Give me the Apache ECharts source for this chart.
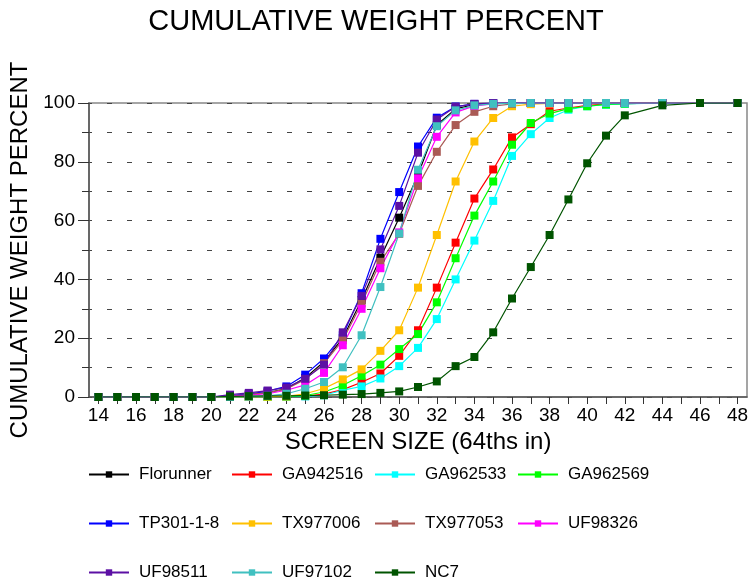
<!DOCTYPE html>
<html>
<head>
<meta charset="utf-8">
<script src="https://cdn.jsdelivr.net/npm/echarts@6/dist/echarts.min.js"></script>
<style>
html,body{margin:0;padding:0;background:#fff;}
#chart{width:752px;height:586px;}
</style>
</head>
<body>
<div id="chart"></div>
<script>
// Screen size categories on the axis (64ths of an inch)
const xCategories = [14,15,16,17,18,19,20,21,22,23,24,25,26,27,28,29,30,31,32,33,34,35,36,37,38,39,40,41,42,43,44,45,46,47,48];
// Screen sizes at which data was recorded
const sizes = [14,15,16,17,18,19,20,21,22,23,24,25,26,27,28,29,30,31,32,33,34,35,36,37,38,39,40,41,42,44,46,48];
const yTicks = [0,20,40,60,80,100];

const seriesNames = ['Florunner','GA942516','GA962533','GA962569','TP301-1-8','TX977006','TX977053','UF98326','UF98511','UF97102','NC7'];
const seriesColors = ['#000000','#ff0000','#00ffff','#00ff00','#0000ff','#ffc000','#aa5a55','#ff00ff','#5c10a4','#40c0c0','#005400'];

const florunner = [0,0,0,0,0,0,0, 0.3,0.8,1.5,2.8,6.5,12.0,20.0,33.0,47.4,61.0,75.6,92.5,98.0,99.5,99.8,100,100,100,100,100,100,100, 100,100,100];
const ga942516  = [0,0,0,0,0,0,0, 0,0,0,0.1,0.3,1.0,2.5,5.0,8.0,14.0,22.7,37.2,52.5,67.5,77.4,88.3,92.8,97.2,98.3,99.2,99.6,99.8, 100,100,100];
const ga962533  = [0,0,0,0,0,0,0, 0,0,0,0.1,0.2,0.6,2.3,3.6,6.3,10.5,16.7,26.5,40.0,53.2,66.7,82.0,89.4,94.9,97.7,98.9,99.4,99.7, 100,100,100];
const ga962569  = [0,0,0,0,0,0,0, 0,0,0.1,0.2,0.5,1.7,4.0,7.2,11.0,16.3,21.4,32.2,47.2,61.7,73.3,85.8,93.2,96.4,98.1,98.9,99.5,99.8, 100,100,100];
const tp301     = [0,0,0,0,0,0,0, 0.5,1.0,2.0,3.6,7.6,13.1,21.0,35.3,53.8,69.7,85.2,95.0,98.8,99.7,100,100,100,100,100,100,100,100, 100,100,100];
const tx977006  = [0,0,0,0,0,0,0, 0,0,0.1,0.2,1.1,2.9,6.0,9.4,15.7,22.7,37.2,55.1,73.3,86.9,94.9,98.9,99.6,99.9,100,100,100,100, 100,100,100];
const tx977053  = [0,0,0,0,0,0,0, 0.3,0.8,1.5,2.7,6.0,11.5,19.3,31.8,46.0,55.5,71.8,83.4,92.5,97.0,98.9,99.7,100,100,100,100,100,100, 100,100,100];
const uf98326   = [0,0,0,0,0,0,0, 0.3,0.6,1.1,2.3,4.1,8.2,17.6,30.0,43.8,56.0,74.4,88.5,96.8,99.0,99.7,100,100,100,100,100,100,100, 100,100,100];
const uf98511   = [0,0,0,0,0,0,0, 0.8,1.4,2.2,3.2,6.2,11.0,22.0,34.4,50.2,65.0,83.1,94.4,98.7,99.7,100,100,100,100,100,100,100,100, 100,100,100];
const uf97102   = [0,0,0,0,0,0,0, 0,0.1,0.4,1.1,2.8,5.1,10.1,21.0,37.4,55.6,77.3,92.1,97.5,99.2,99.7,99.9,100,100,100,100,100,100, 100,100,100];
const nc7       = [0,0,0,0,0,0,0, 0.2,0.3,0.4,0.4,0.5,0.6,0.8,1.0,1.4,1.9,3.4,5.3,10.5,13.6,22.0,33.5,44.2,55.1,67.2,79.5,88.9,95.8, 99.2,100,100];

const seriesValues = [florunner,ga942516,ga962533,ga962569,tp301,tx977006,tx977053,uf98326,uf98511,uf97102,nc7];

const FONT = "'Liberation Sans', Arial, sans-serif";

function alignToCategories(vals){
  return xCategories.map(c => {
    const i = sizes.indexOf(c);
    return i >= 0 ? vals[i] : null;
  });
}

const series = seriesNames.map((name, k) => ({
  name: name,
  type: 'line',
  data: alignToCategories(seriesValues[k]),
  connectNulls: true,
  symbol: 'rect',
  symbolSize: 8,
  color: seriesColors[k],
  lineStyle: {width: 1.2, color: seriesColors[k]},
  itemStyle: {color: seriesColors[k]},
  emphasis: {disabled: true},
  animation: false
}));

const legends = seriesNames.map((name, k) => ({
  data: [name],
  left: 88 + (k % 4) * 143,
  top: 466 + Math.floor(k / 4) * 49,
  padding: 0,
  itemWidth: 40,
  itemHeight: 8,
  selectedMode: false,
  textStyle: {fontFamily: FONT, fontSize: 17, color: '#000', padding: [0,0,0,5]}
}));

const chart = echarts.init(document.getElementById('chart'), null, {renderer: 'canvas'});
chart.setOption({
  animation: false,
  backgroundColor: '#fff',
  title: {
    text: 'CUMULATIVE WEIGHT PERCENT',
    left: 'center',
    top: 2,
    textStyle: {fontFamily: FONT, fontSize: 29, fontWeight: 'normal', color: '#000'}
  },
  legend: legends,
  grid: {left: 89, right: 5, top: 103, bottom: 189, show: true, borderColor: '#888', borderWidth: 1.5, backgroundColor: 'transparent'},
  xAxis: {
    type: 'category',
    data: xCategories.map(String),
    boundaryGap: true,
    name: 'SCREEN SIZE (64ths in)',
    nameLocation: 'middle',
    nameGap: 32,
    nameTextStyle: {fontFamily: FONT, fontSize: 24, color: '#000'},
    axisLine: {lineStyle: {color: '#555', width: 1.5}},
    axisTick: {show: true, alignWithLabel: true, interval: 0, length: 7, lineStyle: {color: '#333'}},
    axisLabel: {interval: 1, fontFamily: FONT, fontSize: 19, color: '#000', margin: 9},
    splitLine: {show: false}
  },
  yAxis: {
    type: 'value',
    min: yTicks[0],
    max: yTicks[yTicks.length - 1],
    interval: 20,
    name: 'CUMULATIVE WEIGHT PERCENT',
    nameLocation: 'middle',
    nameGap: 53,
    nameTextStyle: {fontFamily: FONT, fontSize: 24, color: '#000'},
    axisLine: {show: true, lineStyle: {color: '#555', width: 1.5}},
    axisTick: {show: true, length: 11, lineStyle: {color: '#333'}},
    minorTick: {show: true, splitNumber: 2, length: 7, lineStyle: {color: '#333'}},
    axisLabel: {fontFamily: FONT, fontSize: 19, color: '#000', margin: 14},
    splitLine: {show: true, lineStyle: {type: [5, 15], dashOffset: 2, color: '#444', width: 1}},
    minorSplitLine: {show: true, lineStyle: {type: [5, 15], dashOffset: 2, color: '#444', width: 1}}
  },
  series: series
});
</script>
</body>
</html>
